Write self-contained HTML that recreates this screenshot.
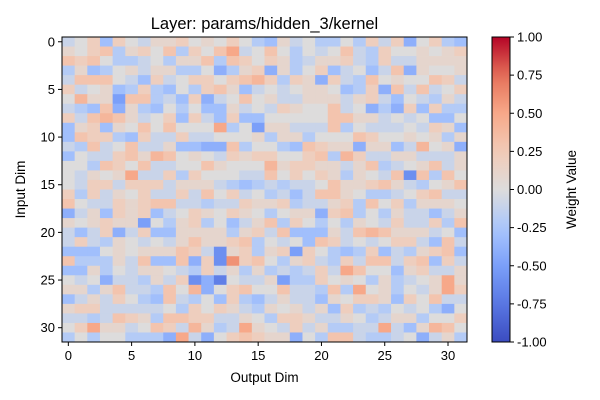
<!DOCTYPE html>
<html><head><meta charset="utf-8"><style>
body{margin:0;background:#fff;}
svg{display:block;font-family:"Liberation Sans",sans-serif;}
</style></head><body>
<svg id="c" width="600" height="400" xmlns="http://www.w3.org/2000/svg"></svg>
<script>
// Data codes: '0'=0, '1'..'7' = +0.1..+0.7, 'a'..'g' = -0.1..-0.7
const rowsLeft = [
"a02c20a11201020b","1023b1203b2035a0","3230bba0b113b320","b1cb01a11bb0db12",
"a3330ac2a0220234","2a01cb2bc0b231ca","0411e33bac2da030","abc3d1bc0b0cc1a0",
"2a3431a02c2ac2cc","c12c103030005b0e","c322bc2aa2aa0001","ab3a03aa1ccdd3b0",
"c0aa23143010a212","00b3203aa0031000","0a1015aa2b2000aa","0a22a222a111abcb",
"2b2a102aa2a302a0","30aa21233aabaa21","da1c212ca0210210","101211e0b12b0ca1",
"aca2da2cc1111b12","a2ab10a0a131123b","ccc01011132af12b","3bbb1a3cc3d2f623",
"cc1b0a110ab2a1b1","0a0daab1a2fdg0aa","11b13aab304d0230","ca1a20bc3ab0c2bc",
"122aaaaa0b2021ab","aaba321b3322aa10","02511a032a41ba51","b0b00bbbd5ad0232"
];
const rowsRight = [
"c1a0bb0b2a2d02bc","30b0a03ab2001012","21ba112ab2aa1111","d1b02ca0ca3d1001",
"2b21d2ab3010032a","0a0110cb2d3a3a02","1aa111a12ac0ab1a","a21003a0dbd2c2bb",
"000003311a0a0cc0","11aaa3b0aaa0a21c","b11b0003200101b1","0bc3211d11ca401d",
"20023b42aa11aaa1","412211a13ba013a1","302021b10a3f3b30","abaa0311231ab013",
"baca3310bba023aa","12baa12b302b1110","b011d23b0b1aaca1","3b20b0b10a2aa2b3",
"a3ccc1a343111a0c","0a0c32a0a022ac3a","12e20bcb2cab123c","0b12ab2a33a23c2a",
"baba2a5300c12aa1","1ebb2010b1ba0151","03aab3b501b0a152","a1aac10221c203aa",
"101a1c2bab0a0bd0","b221aa10ba11b002","0a2a1bbaa5ac1430","11d0b33abba0da1b"
];
const tickValuesX = [0,5,10,15,20,25,30];
const tickValuesY = [0,5,10,15,20,25,30];
const colorbarTicks = [-1,-0.75,-0.5,-0.25,0,0.25,0.5,0.75,1];
</script>
<script>
function decode(ch){
  if(ch>='0'&&ch<='9') return (ch.charCodeAt(0)-48)/10;
  if(ch>='a'&&ch<='j') return -(ch.charCodeAt(0)-96)/10;
  return 0;
}
const NS="http://www.w3.org/2000/svg";
const svg=document.getElementById('c');
function mk(tag,attrs,parent){const e=document.createElementNS(NS,tag);for(const k in attrs)e.setAttribute(k,attrs[k]);(parent||svg).appendChild(e);return e;}
const N=32;
const PX0=62,PX1=467,PY0=37,PY1=342;
const cw=(PX1-PX0)/N, ch=(PY1-PY0)/N;
const xScale=c=>PX0+(c+0.5)*cw;
const yScale=r=>PY0+(r+0.5)*ch;
const stops=[[0,[59,76,192]],[0.125,[89,119,227]],[0.25,[123,159,249]],[0.375,[170,199,253]],[0.5,[221,220,220]],[0.625,[242,203,183]],[0.75,[247,168,137]],[0.875,[229,112,88]],[1,[180,4,38]]];
function cmap(v){
  let t=(Math.max(-1,Math.min(1,v))+1)/2;
  for(let i=0;i<stops.length-1;i++){
    const [a,ca]=stops[i],[b,cb]=stops[i+1];
    if(t<=b){const f=(t-a)/(b-a);return 'rgb('+ca.map((x,j)=>Math.round(x+(cb[j]-x)*f)).join(',')+')';}
  }
  return 'rgb(180,4,38)';
}
const values=[];
for(let r=0;r<N;r++){
  const s=(rowsLeft[r].padEnd(16,'0').slice(0,16))+(rowsRight[r].padEnd(16,'0').slice(0,16));
  values.push(Array.from(s).map(decode));
}
const g=mk('g',{});


for(let r=0;r<N;r++)for(let c=0;c<N;c++){
  const rect=mk('rect',{x:(xScale(c)-cw/2).toFixed(2),y:(yScale(r)-ch/2).toFixed(2),width:(cw+0.4).toFixed(2),height:(ch+0.4).toFixed(2),fill:cmap(values[r][c])},g);
  
  
}
const frame=mk('rect',{x:PX0,y:PY0,width:PX1-PX0,height:PY1-PY0,fill:'none',stroke:'#000','stroke-width':1});


tickValuesX.forEach(v=>{
  const x=xScale(v);
  mk('line',{x1:x,x2:x,y1:PY1,y2:PY1+4,stroke:'#000'});
  const t=mk('text',{x:x,y:PY1+18,'text-anchor':'middle','font-size':'13'});t.textContent=v;
  
  
});
tickValuesY.forEach(v=>{
  const y=yScale(v);
  mk('line',{x1:PX0-4,x2:PX0,y1:y,y2:y,stroke:'#000'});
  const t=mk('text',{x:PX0-7,y:y+4.5,'text-anchor':'end','font-size':'13'});t.textContent=v;
  
  
});
const title=mk('text',{x:(PX0+PX1)/2,y:29,'text-anchor':'middle','font-size':'16.5'});title.textContent='Layer: params/hidden_3/kernel';


const xl=mk('text',{x:(PX0+PX1)/2,y:382,'text-anchor':'middle','font-size':'13.5'});xl.textContent='Output Dim';


const yl=mk('text',{x:0,y:0,'text-anchor':'middle','font-size':'13.5',transform:'translate(25,'+((PY0+PY1)/2)+') rotate(-90)'});yl.textContent='Input Dim';


const CX0=492,CX1=510;
const defs=mk('defs',{});
const lg=mk('linearGradient',{id:'cg',x1:0,y1:1,x2:0,y2:0},defs);
for(let i=0;i<=20;i++){const v=-1+i/10;mk('stop',{offset:(i/20),'stop-color':cmap(v)},lg);}
const cb=mk('rect',{x:CX0,y:PY0,width:CX1-CX0,height:PY1-PY0,fill:'url(#cg)',stroke:'#000','stroke-width':1});


const cbY=v=>PY1-(v+1)/2*(PY1-PY0);
colorbarTicks.forEach(v=>{
  const y=cbY(v);
  mk('line',{x1:CX1,x2:CX1+4,y1:y,y2:y,stroke:'#000'});
  const t=mk('text',{x:CX1+7,y:y+4.5,'font-size':'13'});t.textContent=v.toFixed(2);
  
  
});
const cl=mk('text',{x:0,y:0,'text-anchor':'middle','font-size':'13.5',transform:'translate(576,'+((PY0+PY1)/2)+') rotate(-90)'});cl.textContent='Weight Value';


</script>
</body></html>
